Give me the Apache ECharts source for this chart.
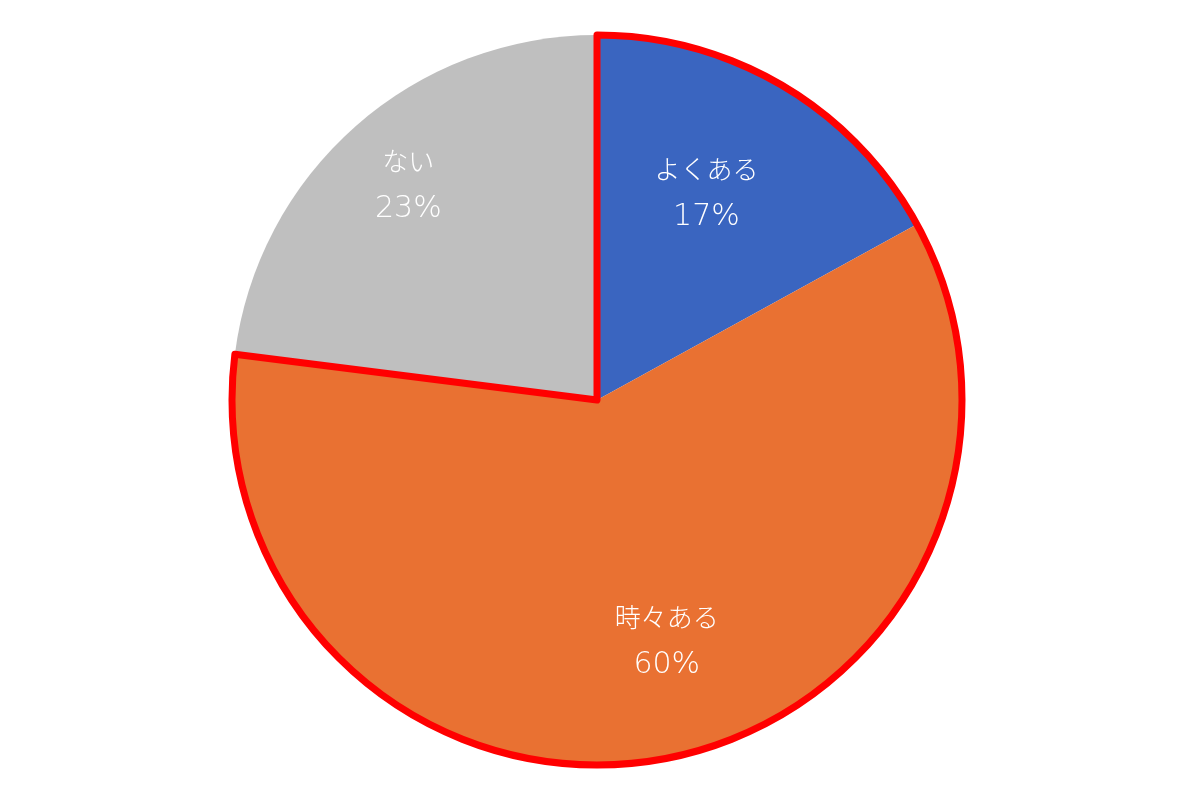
<!DOCTYPE html>
<html>
<head>
<meta charset="utf-8">
<script src="https://cdn.jsdelivr.net/npm/echarts@6/dist/echarts.min.js"></script>
<style>
html,body{margin:0;padding:0;background:#fff;}
#chart{width:1200px;height:800px;}
</style>
</head>
<body>
<div id="chart"></div>
<script>
const categories = ['よくある', '時々ある', 'ない'];
const values = [17, 60, 23];
const colors = ['#3A65C0', '#E97132', '#BFBFBF'];
// label nudges from ECharts' default inside position (layout, not data)
const labelNudges = [[15, -45], [35, 61], [-66, -74]];

const chart = echarts.init(document.getElementById('chart'));
const outlined = values[0] + values[1];
const rest = values[2];

chart.setOption({
  backgroundColor: '#ffffff',
  animation: false,
  series: [
    {
      type: 'pie',
      center: [597, 400],
      radius: [0, 365],
      startAngle: 90,
      clockwise: true,
      avoidLabelOverlap: false,
      emphasis: { disabled: true },
      itemStyle: { borderWidth: 0 },
      label: {
        show: true,
        position: 'inside',
        formatter: '{n|{b}}\n{v|{c}%}',
        color: '#ffffff',
        rich: {
          n: {
            color: '#ffffff',
            fontSize: 26,
            lineHeight: 44,
            fontFamily: '"Noto Sans CJK JP", "Noto Sans", sans-serif',
            fontWeight: 300
          },
          v: {
            color: '#ffffff',
            fontSize: 30,
            lineHeight: 52,
            fontFamily: '"DejaVu Sans", "Noto Sans", sans-serif',
            fontWeight: 200
          }
        }
      },
      labelLine: { show: false },
      labelLayout: function (params) {
        const n = labelNudges[params.dataIndex] || [0, 0];
        return { dx: n[0], dy: n[1] };
      },
      data: categories.map((c, i) => ({
        name: c,
        value: values[i],
        itemStyle: { color: colors[i] }
      }))
    },
    {
      type: 'pie',
      center: [597, 400],
      radius: [0, 365],
      startAngle: 90,
      clockwise: true,
      silent: true,
      z: 5,
      emphasis: { disabled: true },
      label: { show: false },
      labelLine: { show: false },
      data: [
        { name: 'outline', value: outlined, itemStyle: { color: 'rgba(0,0,0,0)', borderColor: '#FF0000', borderWidth: 7, borderJoin: 'round' } },
        { name: 'rest', value: rest, itemStyle: { color: 'rgba(0,0,0,0)', borderWidth: 0 } }
      ]
    }
  ]
});
</script>
</body>
</html>
